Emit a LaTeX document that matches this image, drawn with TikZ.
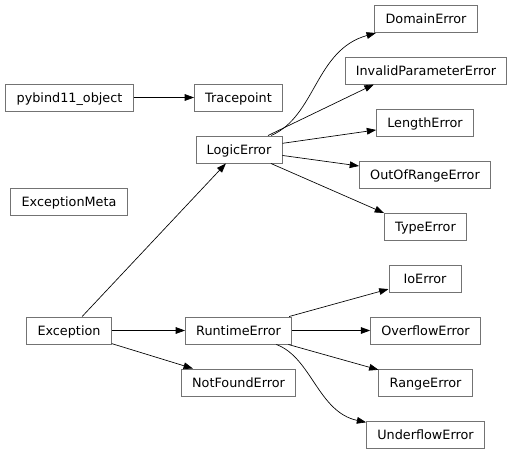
\documentclass[tikz,border=0pt]{standalone}
\usepackage{fontspec}
\setmainfont{DejaVu Sans}
\usetikzlibrary{arrows.meta}

\begin{document}
\begin{tikzpicture}[x=0.75pt,y=-0.75pt,
    cls/.style={draw=black!55,line width=0.75pt,fill=white,inner xsep=8pt,inner ysep=0pt,
        minimum width=54pt,minimum height=20.25pt,text height=7pt,text depth=0pt,
        font=\fontsize{9.6}{11}\selectfont},
    edge/.style={line width=0.5pt,-{Triangle[length=7pt,width=5pt]}}]
    \useasboundingbox (0,0) rectangle (513,454);

    \node[cls] (pybind) at (69.5,97.5) {pybind11\_object};
    \node[cls] (meta) at (69,201.5) {ExceptionMeta};
    \node[cls] (exception) at (69,330.5) {Exception};

    \node[cls] (tracepoint) at (238.5,97.5) {Tracepoint};
    \node[cls] (logic) at (239,149.5) {LogicError};
    \node[cls] (runtime) at (238.5,330.5) {RuntimeError};
    \node[cls] (notfound) at (238.5,382.5) {NotFoundError};

    \node[cls] (domain) at (426,19) {DomainError};
    \node[cls] (invalid) at (426,70.5) {InvalidParameterError};
    \node[cls] (length) at (425,123) {LengthError};
    \node[cls] (outofrange) at (425,175) {OutOfRangeError};
    \node[cls] (type) at (425.5,227) {TypeError};
    \node[cls] (ioerr) at (425,279) {IoError};
    \node[cls] (overflow) at (425.5,330.5) {OverflowError};
    \node[cls] (range) at (425.5,383) {RangeError};
    \node[cls] (underflow) at (425.5,435) {UnderflowError};

    \foreach \a/\b in {pybind/tracepoint,exception/logic,exception/runtime,exception/notfound,
        logic/length,logic/outofrange,runtime/ioerr,runtime/overflow,runtime/range} {
        \draw[edge] (\a) -- (\b);
    }
    \draw[edge] (logic) -- (invalid.195);
    \draw[edge] (logic) -- (type.north west);
    \draw[edge] (logic) .. controls (316,116) and (315,50) .. (domain);
    \draw[edge] (runtime) .. controls (311.5,357.5) and (318,412) .. (underflow);
\end{tikzpicture}
\end{document}
